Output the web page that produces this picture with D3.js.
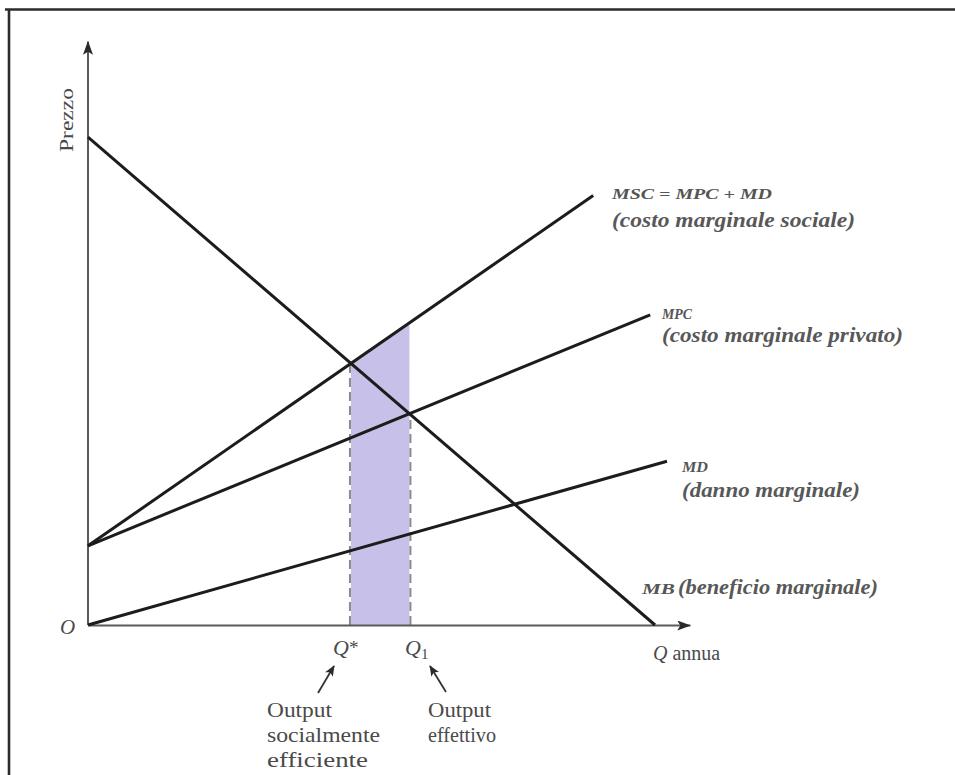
<!DOCTYPE html>
<html>
<head>
<meta charset="utf-8">
<script src="https://cdn.jsdelivr.net/npm/d3@7"></script>
<style>
  html, body { margin: 0; padding: 0; background: #fff; }
  svg { display: block; }
  text { font-family: "Liberation Serif", "Times New Roman", serif; fill: #4a4a4a; }
</style>
</head>
<body>
<svg id="chart" width="955" height="775"></svg>
<script>
// ---- data (economic diagram, arbitrary units 0..100) ----
const curveNames = ["MB", "MPC", "MD", "MSC"];
const qStart = [0, 0, 0, 0];
const pStart = [81.3, 13.2, 0, 13.2];
const qEnd   = [94.5, 93.7, 96.5, 84.2];
const pEnd   = [0, 51.7, 27.3, 71.6];
const axisMaxQ = 100.3;
const axisMaxP = 97.2;
const curveLabelsSmall = ["MB", "MPC", "MD", "MSC = MPC + MD"];
const curveLabelsLong  = ["(beneficio marginale)", "(costo marginale privato)", "(danno marginale)", "(costo marginale sociale)"];

// ---- layout ----
const svg = d3.select("#chart");
const x = d3.scaleLinear().domain([0, 100]).range([88, 688]);
const y = d3.scaleLinear().domain([0, 100]).range([625, 25]);

// frame (top and left border only)
svg.append("path").attr("d", "M5,9.5H955M9,9.5V775")
  .attr("fill", "none").attr("stroke", "#2b2b2b").attr("stroke-width", 2.6);

// helper: lines as functions
const slope = curveNames.map((_, i) => (pEnd[i] - pStart[i]) / (qEnd[i] - qStart[i]));
const val = (i, q) => pStart[i] + slope[i] * (q - qStart[i]);
const inter = (i, j) => (pStart[j] - pStart[i]) / (slope[i] - slope[j]);
const iMB = 0, iMPC = 1, iMD = 2, iMSC = 3;
const qStar = inter(iMB, iMSC);
const q1 = inter(iMB, iMPC);

// shaded area: between Q* and Q1 under MSC
const area = d3.area().x(d => x(d)).y0(y(0)).y1(d => y(val(iMSC, d)));
svg.append("path").datum([qStar, q1]).attr("d", area).attr("fill", "#c7c0e8");

// dashed verticals
svg.append("line").attr("x1", x(qStar) - 1).attr("x2", x(qStar) - 1)
  .attr("y1", y(0)).attr("y2", y(val(iMB, qStar)))
  .attr("stroke", "#8a8a8a").attr("stroke-width", 2).attr("stroke-dasharray", "9,5");
svg.append("line").attr("x1", x(q1) + 1).attr("x2", x(q1) + 1)
  .attr("y1", y(0)).attr("y2", y(val(iMB, q1)))
  .attr("stroke", "#8a8a8a").attr("stroke-width", 2).attr("stroke-dasharray", "9,5");

// arrow marker
const defs = svg.append("defs");
defs.append("marker").attr("id", "axArrow").attr("viewBox", "0 0 14 10")
  .attr("refX", 13).attr("refY", 5).attr("markerWidth", 14).attr("markerHeight", 10)
  .attr("markerUnits", "userSpaceOnUse").attr("orient", "auto")
  .append("path").attr("d", "M0,0L14,5L0,10L3,5Z").attr("fill", "#2a2a2a");
defs.append("marker").attr("id", "smArrow").attr("viewBox", "0 0 12 10")
  .attr("refX", 11).attr("refY", 5).attr("markerWidth", 11).attr("markerHeight", 9)
  .attr("markerUnits", "userSpaceOnUse").attr("orient", "auto")
  .append("path").attr("d", "M0,0L12,5L0,10L3,5Z").attr("fill", "#2a2a2a");

// axes
const xAxis = svg.append("g").attr("transform", `translate(0,${y(0)})`)
  .call(d3.axisBottom(d3.scaleLinear().domain([0, axisMaxQ]).range([x(0), x(axisMaxQ)])).tickValues([]).tickSizeOuter(0));
xAxis.select(".domain").attr("stroke", "#5a5a5a").attr("stroke-width", 2).attr("marker-end", "url(#axArrow)");
const yAxis = svg.append("g").attr("transform", `translate(${x(0)},0)`)
  .call(d3.axisLeft(d3.scaleLinear().domain([0, axisMaxP]).range([y(0), y(axisMaxP)])).tickValues([]).tickSizeOuter(0));
yAxis.select(".domain").attr("stroke", "#5a5a5a").attr("stroke-width", 2)
  .attr("d", `M0,${y(0)}V${y(axisMaxP)}`).attr("marker-end", "url(#axArrow)");

// curves
const line = d3.line().x(d => x(d[0])).y(d => y(d[1]));
curveNames.forEach((n, i) => {
  svg.append("path").datum([[qStart[i], pStart[i]], [qEnd[i], pEnd[i]]])
    .attr("d", line).attr("fill", "none").attr("stroke", "#1c1c1c").attr("stroke-width", 3);
});

// curve labels
const labelPos = [
  {x1: 642, y1: 594, w1: 33, x2: 678, y2: 594, w2: 200},
  {x1: 662, y1: 319, w1: 30, x2: 662, y2: 342, w2: 241},
  {x1: 682, y1: 472, w1: 26, x2: 682, y2: 497, w2: 178},
  {x1: 612, y1: 199, w1: 160, x2: 612, y2: 227, w2: 243}
];
curveNames.forEach((n, i) => {
  const p = labelPos[i];
  svg.append("text").attr("x", p.x1).attr("y", p.y1)
    .attr("font-style", "italic").attr("font-weight", "bold").attr("font-size", 14)
    .style("fill", "#555")
    .attr("textLength", p.w1).attr("lengthAdjust", "spacingAndGlyphs")
    .text(curveLabelsSmall[i]);
  svg.append("text").attr("x", p.x2).attr("y", p.y2)
    .attr("font-style", "italic").attr("font-weight", "bold").attr("font-size", 20)
    .style("fill", "#585858")
    .attr("textLength", p.w2).attr("lengthAdjust", "spacingAndGlyphs")
    .text(curveLabelsLong[i]);
});

// axis titles
svg.append("text").attr("transform", "translate(73,120) rotate(-90)")
  .attr("text-anchor", "middle").attr("font-size", 19)
  .attr("textLength", 64).attr("lengthAdjust", "spacingAndGlyphs").text("Prezzo");
svg.append("text").attr("x", 60).attr("y", 634).attr("font-style", "italic").attr("font-size", 21).text("O");
const qa = svg.append("text").attr("x", 653).attr("y", 660).attr("font-size", 20);
qa.append("tspan").attr("font-style", "italic").text("Q");
qa.append("tspan").text(" annua");

// Q* and Q1
const qs = svg.append("text").attr("x", 333).attr("y", 655).attr("font-size", 22).attr("font-style", "italic");
qs.append("tspan").text("Q");
qs.append("tspan").attr("font-size", 19).attr("font-style", "normal").attr("dy", -1).text("*");
const q1t = svg.append("text").attr("x", 405).attr("y", 655).attr("font-size", 22).attr("font-style", "italic");
q1t.append("tspan").text("Q");
q1t.append("tspan").attr("font-size", 15).attr("font-style", "normal").attr("dy", 4).text("1");

// annotation arrows
svg.append("line").attr("x1", 318).attr("y1", 693).attr("x2", 334).attr("y2", 666)
  .attr("stroke", "#333").attr("stroke-width", 1.8).attr("marker-end", "url(#smArrow)");
svg.append("line").attr("x1", 446).attr("y1", 692).attr("x2", 430).attr("y2", 666)
  .attr("stroke", "#333").attr("stroke-width", 1.8).attr("marker-end", "url(#smArrow)");

// annotations
const annLeft = ["Output", "socialmente", "efficiente"];
const annLeftW = [65, 113, 101];
annLeft.forEach((t, i) => {
  svg.append("text").attr("x", 267).attr("y", 717 + i * 25).attr("font-size", 21)
    .attr("textLength", annLeftW[i]).attr("lengthAdjust", "spacingAndGlyphs").text(t);
});
const annRight = ["Output", "effettivo"];
const annRightW = [63, 68];
annRight.forEach((t, i) => {
  svg.append("text").attr("x", 428).attr("y", 717 + i * 25).attr("font-size", 21)
    .attr("textLength", annRightW[i]).attr("lengthAdjust", "spacingAndGlyphs").text(t);
});
</script>
</body>
</html>
